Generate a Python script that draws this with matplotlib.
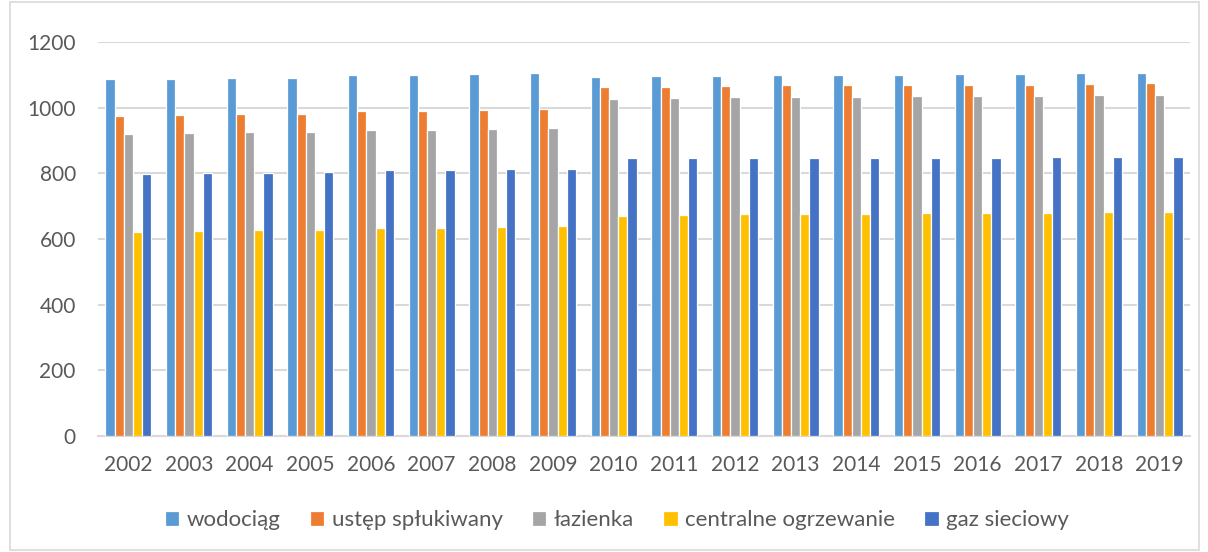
import matplotlib
matplotlib.use("Agg")
import matplotlib.pyplot as plt
import numpy as np
from matplotlib.patches import Rectangle

years = ["2002", "2003", "2004", "2005", "2006", "2007", "2008", "2009", "2010",
         "2011", "2012", "2013", "2014", "2015", "2016", "2017", "2018", "2019"]
wodociag = [1086, 1088, 1090, 1091, 1099, 1099, 1102, 1105, 1094,
            1097, 1097, 1100, 1100, 1101, 1102, 1102, 1105, 1107]
ustep = [975, 978, 981, 982, 989, 989, 993, 995, 1062,
         1064, 1066, 1069, 1069, 1070, 1070, 1070, 1073, 1074]
lazienka = [920, 923, 925, 926, 932, 932, 935, 938, 1027,
            1030, 1031, 1034, 1034, 1035, 1035, 1036, 1039, 1040]
centralne = [621, 624, 627, 628, 633, 633, 637, 640, 671,
             673, 676, 677, 677, 679, 679, 679, 682, 683]
gaz = [797, 800, 802, 803, 810, 810, 813, 814, 846,
       846, 847, 847, 847, 847, 847, 850, 851, 850]

series = [
    ("wodociąg", wodociag, "#5B9BD5"),
    ("ustęp spłukiwany", ustep, "#ED7D31"),
    ("łazienka", lazienka, "#A5A5A5"),
    ("centralne ogrzewanie", centralne, "#FFC000"),
    ("gaz sieciowy", gaz, "#4472C4"),
]

plt.rcParams['font.family'] = ['Lato', 'DejaVu Sans']
text_color = "#595959"
grid_color = "#D9D9D9"

W, H = 1208, 552
fig = plt.figure(figsize=(W / 100, H / 100), dpi=100)
ax = fig.add_axes([98 / W, 1 - 436 / H, (1190 - 98) / W, (436 - 42) / H])

x = np.arange(len(years))
slot = 0.152
for i, (name, vals, col) in enumerate(series):
    ax.bar(x + (i - 2) * slot, vals, width=slot, color=col, label=name,
           edgecolor="white", linewidth=0.9, zorder=3)

ax.set_xlim(-0.5, len(years) - 0.5)
ax.set_ylim(0, 1200)
ax.set_yticks(np.arange(0, 1201, 200))
ax.set_xticks(x)
ax.set_xticklabels(years)
ax.tick_params(axis="both", length=0, labelsize=15, labelcolor=text_color)
ax.tick_params(axis="x", pad=14)
ax.tick_params(axis="y", pad=16)
ax.grid(axis="y", color=grid_color, linewidth=1.5, zorder=0)
for s in ["top", "right", "left"]:
    ax.spines[s].set_visible(False)
ax.spines["bottom"].set_color(grid_color)
ax.spines["bottom"].set_linewidth(1.5)

leg = fig.legend(loc="center", bbox_to_anchor=(617 / W, 1 - 520 / H), ncol=5,
                 frameon=False, fontsize=16, handlelength=0.65, handleheight=0.65,
                 handletextpad=0.35, columnspacing=1.3, labelcolor=text_color)

fig.patches.append(Rectangle((10 / W, 2 / H), (1199 - 10) / W, (550 - 2) / H,
                             transform=fig.transFigure, fill=False,
                             edgecolor=grid_color, linewidth=1.2))

fig.savefig("out.png", dpi=100)
